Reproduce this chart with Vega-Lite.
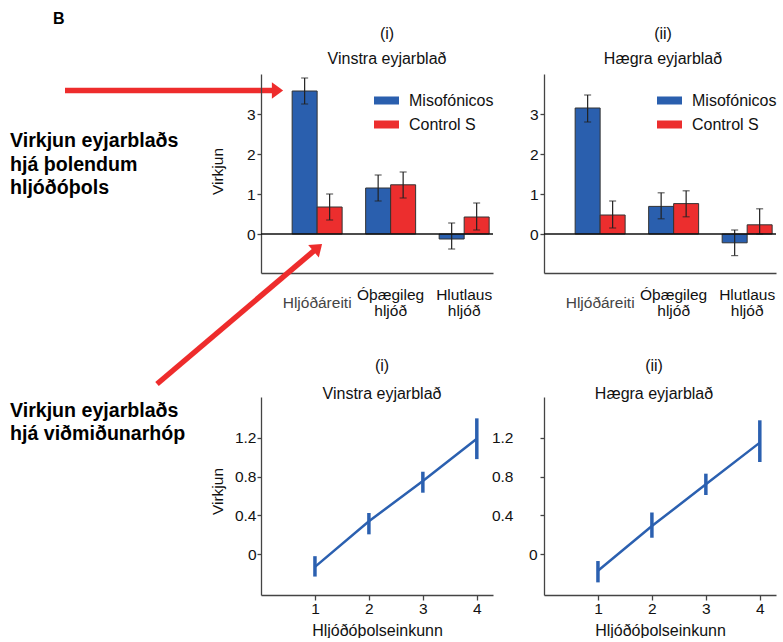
{
  "$schema": "https://vega.github.io/schema/vega-lite/v6.json",
  "background": "white",
  "padding": {"left": 0, "top": 10, "right": 0, "bottom": 0},
  "config": {
    "font": "Liberation Sans",
    "view": {"stroke": null},
    "axis": {"domainColor": "#444", "tickColor": "#444", "domainWidth": 1.3, "tickWidth": 1.3, "labelColor": "#111", "titleColor": "#111", "labelFontSize": 15.5, "titleFontSize": 15.5, "titleFontWeight": "normal", "grid": false},
    "title": {"fontSize": 16, "fontWeight": "normal", "color": "#111", "anchor": "middle", "frame": "group"}
  },
  "datasets": {
    "bars": [
      {"panel": "L", "cat": "Hljóðáreiti", "grp": "Misofónicos", "value": 3.575, "lo": 3.25, "hi": 3.9},
      {"panel": "L", "cat": "Hljóðáreiti", "grp": "Control S", "value": 0.675, "lo": 0.35, "hi": 1.0},
      {"panel": "L", "cat": "Óþægileg hljóð", "grp": "Misofónicos", "value": 1.15, "lo": 0.825, "hi": 1.475},
      {"panel": "L", "cat": "Óþægileg hljóð", "grp": "Control S", "value": 1.23, "lo": 0.9, "hi": 1.55},
      {"panel": "L", "cat": "Hlutlaus hljóð", "grp": "Misofónicos", "value": -0.125, "lo": -0.375, "hi": 0.275},
      {"panel": "L", "cat": "Hlutlaus hljóð", "grp": "Control S", "value": 0.425, "lo": 0.1, "hi": 0.775},
      {"panel": "R", "cat": "Hljóðáreiti", "grp": "Misofónicos", "value": 3.15, "lo": 2.8, "hi": 3.475},
      {"panel": "R", "cat": "Hljóðáreiti", "grp": "Control S", "value": 0.475, "lo": 0.15, "hi": 0.825},
      {"panel": "R", "cat": "Óþægileg hljóð", "grp": "Misofónicos", "value": 0.69, "lo": 0.38, "hi": 1.03},
      {"panel": "R", "cat": "Óþægileg hljóð", "grp": "Control S", "value": 0.76, "lo": 0.43, "hi": 1.08},
      {"panel": "R", "cat": "Hlutlaus hljóð", "grp": "Misofónicos", "value": -0.22, "lo": -0.54, "hi": 0.1},
      {"panel": "R", "cat": "Hlutlaus hljóð", "grp": "Control S", "value": 0.23, "lo": 0.0, "hi": 0.63}
    ],
    "lines": [
      {"panel": "L", "score": 1, "value": -0.13, "lo": -0.23, "hi": -0.02},
      {"panel": "L", "score": 2, "value": 0.34, "lo": 0.205, "hi": 0.425},
      {"panel": "L", "score": 3, "value": 0.754, "lo": 0.634, "hi": 0.85},
      {"panel": "L", "score": 4, "value": 1.19, "lo": 0.98, "hi": 1.4},
      {"panel": "R", "score": 1, "value": -0.17, "lo": -0.29, "hi": -0.07},
      {"panel": "R", "score": 2, "value": 0.29, "lo": 0.17, "hi": 0.43},
      {"panel": "R", "score": 3, "value": 0.72, "lo": 0.61, "hi": 0.83},
      {"panel": "R", "score": 4, "value": 1.15, "lo": 0.95, "hi": 1.38}
    ]
  },
  "columns": 3,
  "bounds": "flush",
  "spacing": {"row": 124, "column": 51},
  "resolve": {"scale": {"color": "independent", "xOffset": "independent"}, "legend": {"color": "independent"}},
  "concat": [
    {
      "width": 210, "height": 199,
      "data": {"values": [{}]},
      "layer": [
        {"mark": {"type": "text", "text": "B", "fontSize": 16, "fontWeight": "bold", "align": "left", "baseline": "top", "color": "#000"},
         "encoding": {
           "x": {"datum": 5.3, "type": "quantitative", "scale": {"domain": [0, 21], "nice": false, "zero": false}, "axis": null},
           "y": {"datum": -6.3, "type": "quantitative", "scale": {"domain": [0, 19.9], "nice": false, "zero": false, "reverse": true}, "axis": null}}},
        {"mark": {"type": "text", "text": "Virkjun eyjarblaðs\nhjá þolendum\nhljóðóþols", "lineBreak": "\n", "fontSize": 19.6, "fontWeight": "bold", "align": "left", "baseline": "alphabetic", "lineHeight": 23.5, "color": "#000"},
         "encoding": {"x": {"datum": 1.0, "type": "quantitative"}, "y": {"datum": 7.3, "type": "quantitative"}}},
        {"mark": {"type": "rule", "color": "#ee2c2c", "strokeWidth": 5.5},
         "encoding": {"x": {"datum": 6.5, "type": "quantitative"}, "y": {"datum": 1.65, "type": "quantitative"}, "x2": {"datum": 27.4}, "y2": {"datum": 1.65}}},
        {"mark": {"type": "point", "shape": "M0.6,0L-0.5,-0.8L-0.5,0.8Z", "size": 420, "filled": true, "color": "#ee2c2c", "opacity": 1, "strokeWidth": 0},
         "encoding": {"x": {"datum": 27.7, "type": "quantitative"}, "y": {"datum": 1.65, "type": "quantitative"}}}
      ]
    },
    {
      "width": 232, "height": 199,
      "title": {"text": ["(i)", "Vinstra eyjarblað"], "lineHeight": 25, "offset": 7, "dx": 10},
      "data": {"name": "bars"},
      "transform": [{"filter": "datum.panel === 'L'"}],
      "layer": [
        {"mark": {"type": "bar", "stroke": "#333", "strokeWidth": 1},
         "encoding": {
           "x": {"field": "cat", "type": "nominal", "sort": ["Hljóðáreiti", "Óþægileg hljóð", "Hlutlaus hljóð"], "scale": {"paddingInner": 0.32, "paddingOuter": 0.238, "align": 0.89},
                 "axis": {"title": null, "ticks": false, "tickSize": 0, "labelAngle": 0, "labelFontSize": 15.5, "labelLineHeight": 16, "labelBaseline": "top", "labelExpr": "split(datum.label, ' ')",
                          "labelPadding": {"condition": {"test": "datum.value === 'Hljóðáreiti'", "value": 22}, "value": 14},
                          "labelColor": {"condition": {"test": "datum.value === 'Hljóðáreiti'", "value": "#444"}, "value": "#111"}}},
           "xOffset": {"field": "grp", "type": "nominal", "sort": ["Misofónicos", "Control S"], "scale": {"paddingInner": 0, "paddingOuter": 0}},
           "y": {"field": "value", "type": "quantitative", "scale": {"domain": [-0.975, 4], "nice": false, "zero": false},
                 "axis": {"values": [0, 1, 2, 3], "tickSize": 4, "labelPadding": 2, "title": "Virkjun", "titleX": -36, "titleY": 97}},
           "y2": {"datum": 0},
           "color": {"field": "grp", "type": "nominal", "sort": ["Misofónicos", "Control S"], "scale": {"domain": ["Misofónicos", "Control S"], "range": ["#2a5fae", "#ec2e2e"]},
                     "legend": {"orient": "none", "legendX": 117, "legendY": 18, "title": null, "symbolType": "M-1.5,-0.48H1.5V0.48H-1.5Z", "symbolSize": 278, "labelFontSize": 16, "labelOffset": 14, "rowPadding": 7, "symbolStrokeWidth": 0, "padding": 0, "labelColor": "#111", "labelLimit": 200}}
         }},
        {"mark": {"type": "rule", "color": "#222", "strokeWidth": 1.2},
         "encoding": {
           "x": {"field": "cat", "type": "nominal", "sort": ["Hljóðáreiti", "Óþægileg hljóð", "Hlutlaus hljóð"]},
           "xOffset": {"field": "grp", "type": "nominal", "sort": ["Misofónicos", "Control S"]},
           "y": {"field": "lo", "type": "quantitative"}, "y2": {"field": "hi"}}},
        {"mark": {"type": "tick", "color": "#222", "thickness": 1.2, "size": 7},
         "encoding": {
           "x": {"field": "cat", "type": "nominal", "sort": ["Hljóðáreiti", "Óþægileg hljóð", "Hlutlaus hljóð"]},
           "xOffset": {"field": "grp", "type": "nominal", "sort": ["Misofónicos", "Control S"]},
           "y": {"field": "lo", "type": "quantitative"}}},
        {"mark": {"type": "tick", "color": "#222", "thickness": 1.2, "size": 7},
         "encoding": {
           "x": {"field": "cat", "type": "nominal", "sort": ["Hljóðáreiti", "Óþægileg hljóð", "Hlutlaus hljóð"]},
           "xOffset": {"field": "grp", "type": "nominal", "sort": ["Misofónicos", "Control S"]},
           "y": {"field": "hi", "type": "quantitative"}}},
        {"data": {"values": [{}]}, "mark": {"type": "rule", "color": "#111", "strokeWidth": 1.3},
         "encoding": {"y": {"datum": 0, "type": "quantitative"}}}
      ]
    },
    {
      "width": 232, "height": 199,
      "title": {"text": ["(ii)", "Hægra eyjarblað"], "lineHeight": 25, "offset": 7, "dx": 3},
      "data": {"name": "bars"},
      "transform": [{"filter": "datum.panel === 'R'"}],
      "layer": [
        {"mark": {"type": "bar", "stroke": "#333", "strokeWidth": 1},
         "encoding": {
           "x": {"field": "cat", "type": "nominal", "sort": ["Hljóðáreiti", "Óþægileg hljóð", "Hlutlaus hljóð"], "scale": {"paddingInner": 0.32, "paddingOuter": 0.238, "align": 0.89},
                 "axis": {"title": null, "ticks": false, "tickSize": 0, "labelAngle": 0, "labelFontSize": 15.5, "labelLineHeight": 16, "labelBaseline": "top", "labelExpr": "split(datum.label, ' ')",
                          "labelPadding": {"condition": {"test": "datum.value === 'Hljóðáreiti'", "value": 22}, "value": 14},
                          "labelColor": {"condition": {"test": "datum.value === 'Hljóðáreiti'", "value": "#444"}, "value": "#111"}}},
           "xOffset": {"field": "grp", "type": "nominal", "sort": ["Misofónicos", "Control S"], "scale": {"paddingInner": 0, "paddingOuter": 0}},
           "y": {"field": "value", "type": "quantitative", "scale": {"domain": [-0.975, 4], "nice": false, "zero": false},
                 "axis": {"values": [0, 1, 2, 3], "tickSize": 4, "labelPadding": 2, "title": null}},
           "y2": {"datum": 0},
           "color": {"field": "grp", "type": "nominal", "sort": ["Misofónicos", "Control S"], "scale": {"domain": ["Misofónicos", "Control S"], "range": ["#2a5fae", "#ec2e2e"]},
                     "legend": {"orient": "none", "legendX": 117, "legendY": 18, "title": null, "symbolType": "M-1.5,-0.48H1.5V0.48H-1.5Z", "symbolSize": 278, "labelFontSize": 16, "labelOffset": 14, "rowPadding": 7, "symbolStrokeWidth": 0, "padding": 0, "labelColor": "#111", "labelLimit": 200}}
         }},
        {"mark": {"type": "rule", "color": "#222", "strokeWidth": 1.2},
         "encoding": {
           "x": {"field": "cat", "type": "nominal", "sort": ["Hljóðáreiti", "Óþægileg hljóð", "Hlutlaus hljóð"]},
           "xOffset": {"field": "grp", "type": "nominal", "sort": ["Misofónicos", "Control S"]},
           "y": {"field": "lo", "type": "quantitative"}, "y2": {"field": "hi"}}},
        {"mark": {"type": "tick", "color": "#222", "thickness": 1.2, "size": 7},
         "encoding": {
           "x": {"field": "cat", "type": "nominal", "sort": ["Hljóðáreiti", "Óþægileg hljóð", "Hlutlaus hljóð"]},
           "xOffset": {"field": "grp", "type": "nominal", "sort": ["Misofónicos", "Control S"]},
           "y": {"field": "lo", "type": "quantitative"}}},
        {"mark": {"type": "tick", "color": "#222", "thickness": 1.2, "size": 7},
         "encoding": {
           "x": {"field": "cat", "type": "nominal", "sort": ["Hljóðáreiti", "Óþægileg hljóð", "Hlutlaus hljóð"]},
           "xOffset": {"field": "grp", "type": "nominal", "sort": ["Misofónicos", "Control S"]},
           "y": {"field": "hi", "type": "quantitative"}}},
        {"data": {"values": [{}]}, "mark": {"type": "rule", "color": "#111", "strokeWidth": 1.3},
         "encoding": {"y": {"datum": 0, "type": "quantitative"}}}
      ]
    },
    {
      "width": 210, "height": 198,
      "data": {"values": [{}]},
      "layer": [
        {"mark": {"type": "text", "text": "Virkjun eyjarblaðs\nhjá viðmiðunarhóp", "lineBreak": "\n", "fontSize": 19.6, "fontWeight": "bold", "align": "left", "baseline": "alphabetic", "lineHeight": 23.5, "color": "#000"},
         "encoding": {
           "x": {"datum": 1.0, "type": "quantitative", "scale": {"domain": [0, 21], "nice": false, "zero": false}, "axis": null},
           "y": {"datum": 1.97, "type": "quantitative", "scale": {"domain": [0, 19.8], "nice": false, "zero": false, "reverse": true}, "axis": null}}},
        {"mark": {"type": "rule", "color": "#ee2c2c", "strokeWidth": 5.5},
         "encoding": {"x": {"datum": 15.7, "type": "quantitative"}, "y": {"datum": -1.3, "type": "quantitative"}, "x2": {"datum": 31.74}, "y2": {"datum": -14.91}}},
        {"mark": {"type": "point", "shape": "M0.6,0L-0.5,-0.8L-0.5,0.8Z", "size": 420, "filled": true, "color": "#ee2c2c", "opacity": 1, "strokeWidth": 0, "angle": -40.5},
         "encoding": {"x": {"datum": 31.74, "type": "quantitative"}, "y": {"datum": -14.91, "type": "quantitative"}}}
      ]
    },
    {
      "width": 232, "height": 198,
      "title": {"text": ["(i)", "Vinstra eyjarblað"], "lineHeight": 28, "offset": -5, "dx": 5},
      "data": {"name": "lines"},
      "transform": [{"filter": "datum.panel === 'L'"}],
      "layer": [
        {"mark": {"type": "line", "color": "#2b60b0", "strokeWidth": 2.5},
         "encoding": {
           "x": {"field": "score", "type": "quantitative", "scale": {"domain": [0, 4.3], "nice": false, "zero": false},
                 "axis": {"values": [1, 2, 3, 4], "format": "d", "tickSize": 5, "labelPadding": 1, "title": "Hljóðóþolseinkunn", "titleFontSize": 16, "titleBaseline": "alphabetic", "titleX": 116, "titleY": 40}},
           "y": {"field": "value", "type": "quantitative", "scale": {"domain": [-0.42, 1.62], "nice": false, "zero": false},
                 "axis": {"values": [0, 0.4, 0.8, 1.2], "labelExpr": "datum.value === 0 ? '0' : format(datum.value, '.1f')", "tickSize": 4, "labelPadding": 1, "title": "Virkjun", "titleX": -36, "titleY": 94}}
         }},
        {"mark": {"type": "rule", "color": "#2b60b0", "strokeWidth": 3.5},
         "encoding": {"x": {"field": "score", "type": "quantitative"}, "y": {"field": "lo", "type": "quantitative"}, "y2": {"field": "hi"}}}
      ]
    },
    {
      "width": 232, "height": 198,
      "title": {"text": ["(ii)", "Hægra eyjarblað"], "lineHeight": 28, "offset": -5, "dx": -6},
      "data": {"name": "lines"},
      "transform": [{"filter": "datum.panel === 'R'"}],
      "layer": [
        {"mark": {"type": "line", "color": "#2b60b0", "strokeWidth": 2.5},
         "encoding": {
           "x": {"field": "score", "type": "quantitative", "scale": {"domain": [0, 4.3], "nice": false, "zero": false},
                 "axis": {"values": [1, 2, 3, 4], "format": "d", "tickSize": 5, "labelPadding": 1, "title": "Hljóðóþolseinkunn", "titleFontSize": 16, "titleBaseline": "alphabetic", "titleX": 116, "titleY": 40}},
           "y": {"field": "value", "type": "quantitative", "scale": {"domain": [-0.42, 1.62], "nice": false, "zero": false},
                 "axis": {"values": [0, 0.4, 0.8, 1.2], "labelExpr": "datum.value === 0 ? '0' : format(datum.value, '.1f')", "tickSize": 4,
                          "labelPadding": {"condition": {"test": "datum.value === 0", "value": 3}, "value": 27}, "title": null}}
         }},
        {"mark": {"type": "rule", "color": "#2b60b0", "strokeWidth": 3.5},
         "encoding": {"x": {"field": "score", "type": "quantitative"}, "y": {"field": "lo", "type": "quantitative"}, "y2": {"field": "hi"}}}
      ]
    }
  ]
}
